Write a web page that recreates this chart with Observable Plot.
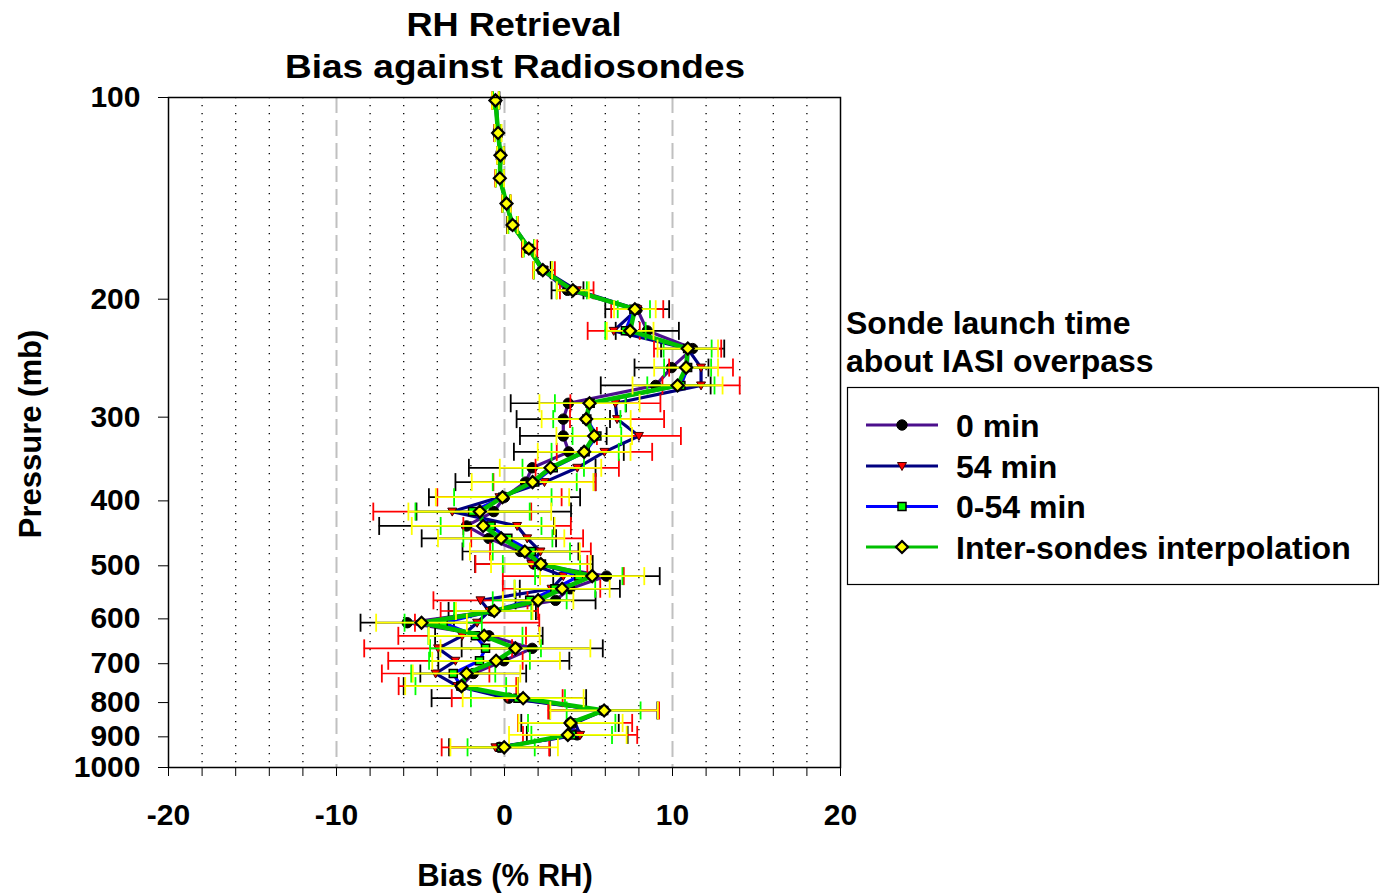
<!DOCTYPE html>
<html><head><meta charset="utf-8">
<script src="https://cdn.jsdelivr.net/npm/d3@7"></script>
<script src="https://cdn.jsdelivr.net/npm/@observablehq/plot@0.6"></script>
<style>
body{margin:0;background:#fff;}
#chart{position:relative;width:1381px;height:893px;overflow:hidden;}
</style></head><body><div id="chart"></div>
<script>
// ---- data ----
const pressure = [101,113,122,132,144,155,168,181,194,207,223,237,253,269,286,302,320,338,357,375,395,415,436,455,476,497,518,541,563,584,608,636,664,693,724,756,788,822,858,894,933];

const bias0   = [-0.5,-0.4,-0.22,-0.28,0.1,0.45,1.4,2.25,3.75,7.9,8.5,11.2,9.94,9.0,3.8,3.5,3.5,3.83,1.65,1.25,0.0,-0.64,-2.26,-0.93,0.95,1.75,6.07,3.89,3.04,-0.73,-5.79,-0.93,1.65,-0.04,-1.86,-2.6,0.26,5.9,3.9,4.33,-0.3];
const err0    = [0.2,0.2,0.2,0.25,0.25,0.3,0.35,0.5,0.95,1.9,1.88,1.88,2.2,3.27,3.43,2.78,2.58,3.27,3.77,4.17,4.5,4.6,5.2,4.0,3.45,3.5,3.17,2.98,2.38,2.6,2.78,3.2,4.2,3.9,3.15,3.4,4.6,3.2,2.9,3.0,3.0];

const bias54  = [-0.55,-0.4,-0.25,-0.3,0.12,0.5,1.5,2.35,4.3,7.9,6.5,10.9,11.7,11.7,6.6,6.7,8.0,5.95,4.33,2.38,-0.3,-3.11,0.75,1.35,2.14,1.6,3.5,2.8,-1.43,-0.9,-1.63,-2.52,-3.95,-2.92,-4.1,-2.8,0.16,5.9,4.2,4.5,-0.54];
const err54   = [0.2,0.2,0.2,0.25,0.25,0.3,0.45,0.65,1.0,1.55,1.55,2.0,1.9,2.3,2.68,2.8,2.5,2.84,2.48,3.04,3.7,4.7,3.2,3.33,3.0,3.33,3.6,2.9,2.8,2.9,3.7,3.8,4.4,4.0,3.2,3.5,3.3,3.3,3.4,3.4,3.2];

const bias054 = [-0.5,-0.38,-0.24,-0.28,0.12,0.48,1.45,2.3,4.0,7.7,7.2,10.9,10.9,10.5,5.1,4.9,5.5,4.8,2.9,1.8,-0.1,-1.9,-0.8,0.2,1.6,2.2,4.42,3.0,1.5,-0.7,-3.65,-1.73,-1.13,-1.49,-3.05,-2.6,0.8,5.9,4.0,4.0,-0.2];
const err054  = [0.18,0.18,0.18,0.22,0.22,0.25,0.3,0.55,0.9,0.96,1.2,1.43,1.4,2.0,2.1,2.0,1.45,2.0,1.83,2.5,2.9,3.4,3.0,2.65,2.3,2.3,2.6,2.4,2.2,2.3,2.3,2.8,3.3,3.0,2.5,2.7,2.8,2.2,2.6,2.4,2.0];

const biasInt = [-0.54,-0.38,-0.24,-0.28,0.12,0.48,1.45,2.28,4.07,7.76,7.48,10.91,10.81,10.3,5.06,4.86,5.34,4.74,2.74,1.67,-0.12,-1.47,-1.27,-0.2,1.21,2.16,5.22,3.43,2.0,-0.61,-4.94,-1.21,0.65,-0.5,-2.26,-2.56,1.11,5.93,3.93,3.77,-0.02];
const errInt  = [0.2,0.2,0.2,0.25,0.25,0.3,0.35,0.55,0.95,1.24,1.39,1.8,1.9,2.68,2.98,2.65,2.25,2.76,3.02,3.62,3.97,4.25,4.25,3.76,3.27,2.96,3.1,2.83,2.1,2.28,2.7,3.3,4.46,3.8,3.2,3.35,3.6,3.2,3.1,3.5,3.2];

const seriesNames = ["0 min","54 min","0-54 min","Inter-sondes interpolation"];
const xTickValues = [-20,-18,-16,-14,-12,-10,-8,-6,-4,-2,0,2,4,6,8,10,12,14,16,18,20];
const xLabelled = [-20,-10,0,10,20];
const dashedGrid = [-10,0,10];
const yTickValues = [100,200,300,400,500,600,700,800,900,1000];

// ---- styles ----
const lineColors = ["#4b0f8c","#000080","#0000ff","#00c000"];
const barColors  = ["#000000","#ff0000","#00ff00","#ffff00"];
const lineWidths = [3.2,3.2,3.2,4.5];
const FONT = "'Liberation Sans', Arial, Helvetica, sans-serif";

const capSym   = {draw(c){c.moveTo(0,-9);c.lineTo(0,9);}};
const circSym  = {draw(c){c.moveTo(5.2,0);c.arc(0,0,5.2,0,2*Math.PI);c.closePath();}};
const triSym   = {draw(c){c.moveTo(-4.5,-3.5);c.lineTo(4.5,-3.5);c.lineTo(0,4.5);c.closePath();}};
const sqSym    = {draw(c){c.moveTo(-4,-4);c.lineTo(4,-4);c.lineTo(4,4);c.lineTo(-4,4);c.closePath();}};
const diaSym   = {draw(c){c.moveTo(0,-6);c.lineTo(6,0);c.lineTo(0,6);c.lineTo(-6,0);c.closePath();}};
const markers = [
  {symbol: circSym, fill:"#000000", stroke:"#000000", strokeWidth:1},
  {symbol: triSym,  fill:"#ff0000", stroke:"#400000", strokeWidth:1},
  {symbol: sqSym,   fill:"#00ff00", stroke:"#000000", strokeWidth:1.5},
  {symbol: diaSym,  fill:"#ffff00", stroke:"#000000", strokeWidth:2.2}
];

const allBias = [bias0, bias54, bias054, biasInt];
const allErr  = [err0, err54, err054, errInt];
const seriesData = allBias.map((b, s) => pressure.map((p, i) => ({series: seriesNames[s], p, bias: b[i], err: allErr[s][i]})));

const marks = [
  Plot.ruleX(xTickValues.filter(d => !xLabelled.includes(d)), {stroke:"#000", strokeWidth:1.3, strokeDasharray:"1.3,6.7"}),
  Plot.ruleX(dashedGrid, {stroke:"#c0c0c0", strokeWidth:2, strokeDasharray:"16,7"})
];
seriesData.forEach((data, s) => {
  marks.push(Plot.line(data, {x:"bias", y:"p", stroke: lineColors[s], strokeWidth: lineWidths[s]}));
  marks.push(Plot.ruleY(data, {y:"p", x1: d => d.bias - d.err, x2: d => d.bias + d.err, stroke: barColors[s], strokeWidth:1.7}));
  marks.push(Plot.dot(data, {x: d => d.bias - d.err, y:"p", symbol: capSym, fill:"none", stroke: barColors[s], strokeWidth:1.8}));
  marks.push(Plot.dot(data, {x: d => d.bias + d.err, y:"p", symbol: capSym, fill:"none", stroke: barColors[s], strokeWidth:1.8}));
  marks.push(Plot.dot(data, {x:"bias", y:"p", ...markers[s]}));
});
marks.push(Plot.frame({stroke:"#000", strokeWidth:1.5}));

const svg = Plot.plot({
  width:1381, height:893,
  marginLeft:168, marginRight:541, marginTop:97, marginBottom:126,
  x:{domain:[-20,20], ticks:xTickValues, tickSize:9, tickPadding:27,
     tickFormat: d => xLabelled.includes(d) ? String(d) : "", label:null},
  y:{type:"log", domain:[100,1000], reverse:true, ticks:yTickValues, tickSize:10, tickPadding:18,
     tickFormat: d => String(d), label:null},
  style:{fontFamily:FONT, fontSize:"30px", fontWeight:"bold", background:"white", color:"black", maxWidth:"none"},
  marks
});
document.getElementById("chart").appendChild(svg);

// ---- titles and legend ----
const root = d3.select(svg);
const g = root.append("g").attr("font-family", FONT).attr("font-weight","bold").attr("fill","#000").attr("text-anchor","start");
g.append("text").attr("x",514).attr("y",36).attr("text-anchor","middle").attr("font-size",33)
  .attr("textLength",215).attr("lengthAdjust","spacingAndGlyphs").text("RH Retrieval");
g.append("text").attr("x",515).attr("y",78).attr("text-anchor","middle").attr("font-size",33)
  .attr("textLength",460).attr("lengthAdjust","spacingAndGlyphs").text("Bias against Radiosondes");
g.append("text").attr("transform","translate(41,434) rotate(-90)").attr("text-anchor","middle").attr("font-size",31).text("Pressure (mb)");
g.append("text").attr("x",505).attr("y",886).attr("text-anchor","middle").attr("font-size",31).text("Bias (% RH)");
g.append("text").attr("x",846).attr("y",334).attr("text-anchor","start").attr("font-size",32).text("Sonde launch time");
g.append("text").attr("x",846).attr("y",371.5).attr("text-anchor","start").attr("font-size",32).text("about IASI overpass");
g.append("rect").attr("x",847.5).attr("y",387.5).attr("width",531).attr("height",197)
  .attr("fill","none").attr("stroke","#000").attr("stroke-width",1.2);
const rowY = [425, 466, 506.5, 547];
seriesNames.forEach((name, s) => {
  const y = rowY[s];
  g.append("line").attr("x1",866).attr("x2",938).attr("y1",y).attr("y2",y)
    .attr("stroke", lineColors[s]).attr("stroke-width", 3);
  const p = d3.path(); markers[s].symbol.draw(p);
  g.append("path").attr("d", p.toString()).attr("transform",`translate(902,${y})`)
    .attr("fill", markers[s].fill).attr("stroke", markers[s].stroke).attr("stroke-width", markers[s].strokeWidth);
  g.append("text").attr("x",956).attr("y",y+11.5).attr("text-anchor","start").attr("font-size",32).text(name);
});
</script></body></html>
